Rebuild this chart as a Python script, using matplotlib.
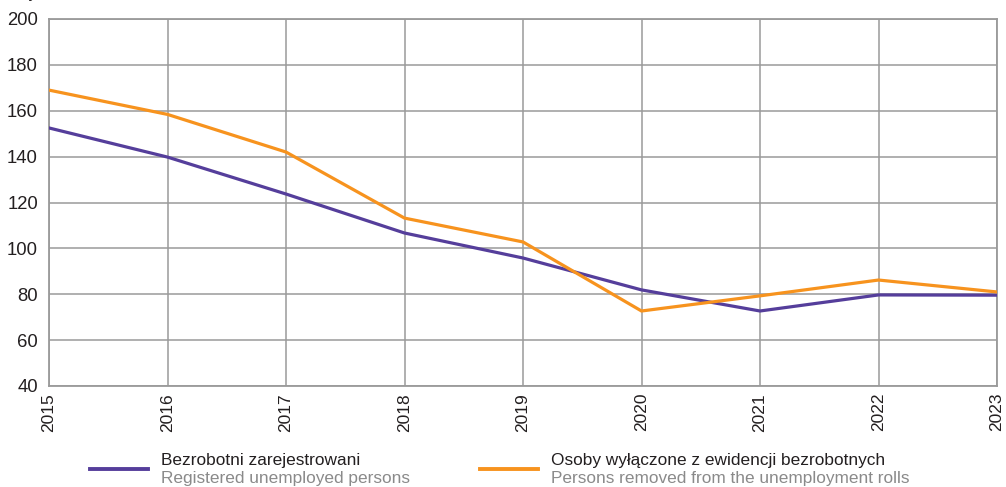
import matplotlib
matplotlib.use("Agg")
import matplotlib.pyplot as plt
from matplotlib.lines import Line2D

plt.rcParams['font.family'] = ['Liberation Sans', 'DejaVu Sans']

years = ["2015", "2016", "2017", "2018", "2019", "2020", "2021", "2022", "2023"]
registered = [152.5, 139.8, 123.7, 106.7, 95.8, 81.9, 72.7, 79.7, 79.6]
removed = [169.0, 158.4, 142.0, 113.2, 102.8, 72.7, 79.3, 86.2, 81.0]

label_pl = ["Bezrobotni zarejestrowani", "Osoby wyłączone z ewidencji bezrobotnych"]
label_en = ["Registered unemployed persons", "Persons removed from the unemployment rolls"]

purple = "#553E9B"
orange = "#F7931E"
grid_c = "#9a9a9a"
text_c = "#231F20"

W, H = 1006, 487
fig = plt.figure(figsize=(W / 100, H / 100), dpi=100)
ax = fig.add_axes([49 / W, 1 - 386 / H, (997 - 49) / W, (386 - 19) / H])

x = list(range(len(years)))
ax.plot(x, registered, color=purple, lw=2.3, solid_joinstyle='miter', zorder=3)
ax.plot(x, removed, color=orange, lw=2.3, solid_joinstyle='miter', zorder=3)

ax.set_xlim(0, len(years) - 1)
ax.set_ylim(40, 200)
ax.set_yticks(range(40, 201, 20))
ax.set_xticks(x)
ax.set_xticklabels(years, rotation=90, fontsize=12.5, color=text_c)
ax.tick_params(axis='y', labelsize=13.3, length=0, pad=8, labelcolor=text_c)
ax.tick_params(axis='x', length=0, pad=5)
ax.grid(True, color=grid_c, lw=1.1)
for s in ax.spines.values():
    s.set_color(grid_c)
    s.set_linewidth(1.3)

# cut-off unit label at top
fig.text(25 / W, 1 + 1.5 / H, "tys.", fontsize=12, color=text_c, va='baseline', ha='left')

# legend
def legend_entry(x0, color, pl, en):
    fig.add_artist(Line2D([x0 / W, (x0 + 58) / W], [1 - 469 / H, 1 - 469 / H],
                          color=color, lw=2.8, transform=fig.transFigure))
    fig.text((x0 + 71) / W, 1 - 465 / H, pl, fontsize=12.4, color=text_c, va='baseline')
    fig.text((x0 + 71) / W, 1 - 482.5 / H, en, fontsize=12.4, color="#8a8a8a", va='baseline')

legend_entry(90, purple, label_pl[0], label_en[0])
legend_entry(480, orange, label_pl[1], label_en[1])

fig.savefig("out.png", dpi=100)
